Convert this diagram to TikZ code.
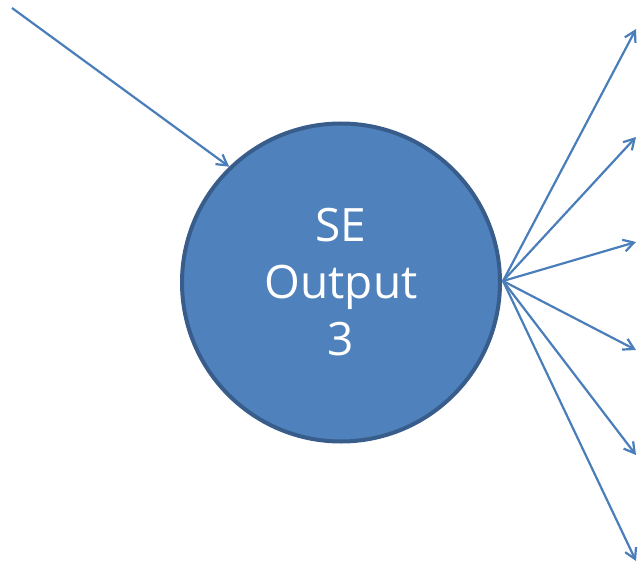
\documentclass[tikz,border=0pt]{standalone}
\usepackage{fontspec}
\setmainfont{Open Sans}
\usetikzlibrary{arrows.meta}
\definecolor{nodefill}{HTML}{4F81BD}
\definecolor{nodeedge}{HTML}{385D8A}
\definecolor{linkblue}{HTML}{4A7EBB}
\begin{document}
\begin{tikzpicture}[x=1pt,y=-1pt,
  bubble/.style={circle, draw=nodeedge, line width=4pt, fill=nodefill,
    minimum size=318pt, inner sep=0pt, text=white, align=center,
    font=\fontsize{46}{57}\selectfont},
  link/.style={draw=linkblue, line width=2.2pt,
    -{Straight Barb[angle=60:12pt, line width=2.2pt]}}]
\useasboundingbox (0,0) rectangle (639,567);
\node[bubble] (c) at (341,282.5) {SE\\Output\\3};
\coordinate (src) at (12,8);
\coordinate (hub) at (503,281);
\coordinate (o1) at (636,29);
\coordinate (o2) at (636,137);
\coordinate (o3) at (636,242);
\coordinate (o4) at (636,350);
\coordinate (o5) at (636,455);
\coordinate (o6) at (636,561);
\draw[link] (src) -- (c.134.5);
\foreach \k in {1,...,6} \draw[link] (hub) -- (o\k);
\end{tikzpicture}
\end{document}
